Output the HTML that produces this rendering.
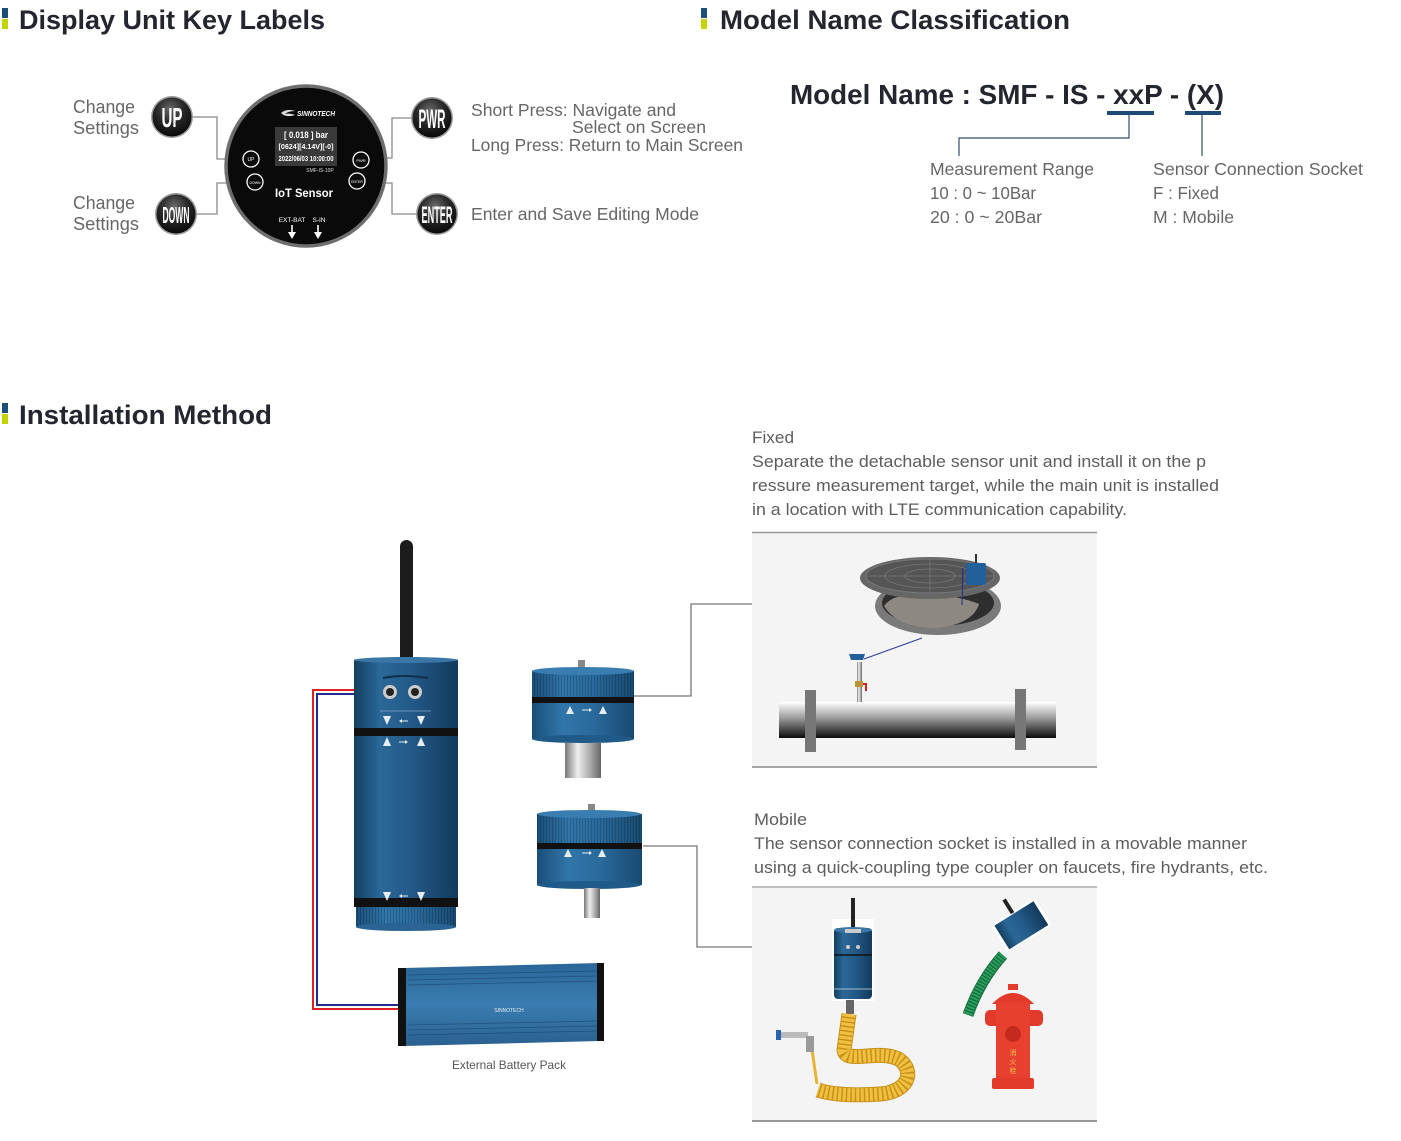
<!DOCTYPE html>
<html><head><meta charset="utf-8"><style>
html,body{margin:0;padding:0;background:#fff;}
svg{display:block;}
text{font-family:"Liberation Sans",Arial,sans-serif;}
</style></head><body>
<svg width="1401" height="1141" viewBox="0 0 1401 1141" xmlns="http://www.w3.org/2000/svg">
<defs>
<radialGradient id="btn" cx="45%" cy="30%" r="75%">
<stop offset="0" stop-color="#6a6a6a"/><stop offset="0.45" stop-color="#2a2a2a"/><stop offset="1" stop-color="#050505"/>
</radialGradient>
<linearGradient id="cyl" x1="0" x2="1" y1="0" y2="0">
<stop offset="0" stop-color="#14405f"/><stop offset="0.25" stop-color="#2a6898"/><stop offset="0.55" stop-color="#235a88"/><stop offset="1" stop-color="#123a5c"/>
</linearGradient>
<linearGradient id="cyl2" x1="0" x2="1" y1="0" y2="0">
<stop offset="0" stop-color="#1a4e78"/><stop offset="0.3" stop-color="#3176aa"/><stop offset="0.6" stop-color="#2a6a9c"/><stop offset="1" stop-color="#184a70"/>
</linearGradient>
<linearGradient id="steel" x1="0" x2="1">
<stop offset="0" stop-color="#777"/><stop offset="0.35" stop-color="#eee"/><stop offset="0.7" stop-color="#aaa"/><stop offset="1" stop-color="#666"/>
</linearGradient>
<linearGradient id="pipe" x1="0" x2="0" y1="0" y2="1">
<stop offset="0" stop-color="#ffffff"/><stop offset="0.45" stop-color="#9a9a9a"/><stop offset="1" stop-color="#0a0a0a"/>
</linearGradient>
<linearGradient id="batt" x1="0" x2="0" y1="0" y2="1">
<stop offset="0" stop-color="#2a6598"/><stop offset="0.5" stop-color="#3a7db0"/><stop offset="1" stop-color="#2a6090"/>
</linearGradient>
<pattern id="rib" width="3" height="10" patternUnits="userSpaceOnUse">
<rect width="3" height="10" fill="none"/><rect x="0" width="1" height="10" fill="#000" opacity="0.18"/>
</pattern>
</defs>

<!-- Headings -->
<rect x="2" y="8" width="6" height="10" fill="#1b4f7a"/><rect x="2" y="19" width="6" height="10" fill="#c3d300"/>
<text x="19" y="29" font-size="27" font-weight="bold" fill="#23262e" textLength="306" lengthAdjust="spacingAndGlyphs">Display Unit Key Labels</text>
<rect x="701" y="8" width="6" height="10" fill="#1b4f7a"/><rect x="701" y="19" width="6" height="10" fill="#c3d300"/>
<text x="720" y="29" font-size="27" font-weight="bold" fill="#23262e" textLength="350" lengthAdjust="spacingAndGlyphs">Model Name Classification</text>
<rect x="2" y="403" width="6" height="10" fill="#1b4f7a"/><rect x="2" y="414" width="6" height="10" fill="#c3d300"/>
<text x="19" y="424" font-size="27" font-weight="bold" fill="#23262e" textLength="253" lengthAdjust="spacingAndGlyphs">Installation Method</text>

<!-- Display unit -->
<g stroke="#8a8a8a" stroke-width="1.3" fill="none">
<polyline points="192,117 217,117 217,159 235,159"/>
<polyline points="196,214 217,214 217,183 235,183"/>
<polyline points="412,118 392,118 392,158 378,158"/>
<polyline points="417,214 392,214 392,183 378,183"/>
</g>
<circle cx="306" cy="166" r="80" fill="#0a0a0a" stroke="#6e6e6e" stroke-width="3.5"/>
<path d="M281 113 q6 -5 14 -2 q-7 0 -10 3 q6 -1 10 1 q-9 3 -14 -2z" fill="#ddd"/>
<text x="297" y="116" font-size="7" font-style="italic" font-weight="bold" fill="#fff" textLength="38" lengthAdjust="spacingAndGlyphs">SINNOTECH</text>
<rect x="275" y="127" width="62" height="39" fill="#3a3a3a"/>
<text x="306" y="138" font-size="9" font-weight="bold" fill="#fff" text-anchor="middle" textLength="44" lengthAdjust="spacingAndGlyphs">[ 0.018 ] bar</text>
<text x="306" y="149" font-size="7" font-weight="bold" fill="#fff" text-anchor="middle" textLength="55" lengthAdjust="spacingAndGlyphs">[0624][4.14V][-0]</text>
<text x="306" y="161" font-size="7" font-weight="bold" fill="#fff" text-anchor="middle" textLength="55" lengthAdjust="spacingAndGlyphs">2022/06/03 10:00:00</text>
<text x="320" y="172" font-size="5" fill="#ddd" text-anchor="middle">SMF-IS-10P</text>
<text x="304" y="197" font-size="12" font-weight="bold" fill="#fff" text-anchor="middle" textLength="58" lengthAdjust="spacingAndGlyphs">IoT Sensor</text>
<text x="292" y="222" font-size="6.5" fill="#fff" text-anchor="middle">EXT-BAT</text>
<text x="319" y="222" font-size="6.5" fill="#fff" text-anchor="middle">S-IN</text>
<g stroke="#fff" stroke-width="1.6" fill="#fff">
<line x1="292" y1="225" x2="292" y2="234"/><polygon points="288,232 296,232 292,239" stroke="none"/>
<line x1="318" y1="225" x2="318" y2="234"/><polygon points="314,232 322,232 318,239" stroke="none"/>
</g>
<g fill="none" stroke="#fff" stroke-width="1.3">
<circle cx="251" cy="159" r="8"/><circle cx="255" cy="182" r="8"/>
<circle cx="361" cy="160" r="8"/><circle cx="357" cy="181" r="8"/>
</g>
<text x="251" y="161" font-size="5" fill="#fff" text-anchor="middle">UP</text>
<text x="255" y="184" font-size="3.5" fill="#fff" text-anchor="middle">DOWN</text>
<text x="361" y="162" font-size="4" fill="#fff" text-anchor="middle">PWR</text>
<text x="357" y="183" font-size="3.5" fill="#fff" text-anchor="middle">ENTER</text>

<!-- Buttons -->
<circle cx="172" cy="117" r="21" fill="#9a9a9a"/><circle cx="172" cy="117" r="19.5" fill="url(#btn)"/>
<text x="161.5" y="127" font-size="28" font-weight="bold" fill="#fff" textLength="21" lengthAdjust="spacingAndGlyphs">UP</text>
<circle cx="176" cy="214" r="21" fill="#9a9a9a"/><circle cx="176" cy="214" r="19.5" fill="url(#btn)"/>
<text x="162.5" y="223" font-size="23" font-weight="bold" fill="#fff" textLength="27" lengthAdjust="spacingAndGlyphs">DOWN</text>
<circle cx="432" cy="118" r="21" fill="#9a9a9a"/><circle cx="432" cy="118" r="19.5" fill="url(#btn)"/>
<text x="418.5" y="128" font-size="27" font-weight="bold" fill="#fff" textLength="27" lengthAdjust="spacingAndGlyphs">PWR</text>
<circle cx="437" cy="214" r="21" fill="#9a9a9a"/><circle cx="437" cy="214" r="19.5" fill="url(#btn)"/>
<text x="421.5" y="223" font-size="24" font-weight="bold" fill="#fff" textLength="31" lengthAdjust="spacingAndGlyphs">ENTER</text>

<!-- Key label texts -->
<g fill="#666" font-size="18">
<text x="73" y="113" textLength="62" lengthAdjust="spacingAndGlyphs">Change</text>
<text x="73" y="134" textLength="66" lengthAdjust="spacingAndGlyphs">Settings</text>
<text x="73" y="209" textLength="62" lengthAdjust="spacingAndGlyphs">Change</text>
<text x="73" y="230" textLength="66" lengthAdjust="spacingAndGlyphs">Settings</text>
</g>
<g fill="#666" font-size="17.5">
<text x="471" y="116" textLength="205" lengthAdjust="spacingAndGlyphs">Short Press: Navigate and</text>
<text x="572" y="133" textLength="134" lengthAdjust="spacingAndGlyphs">Select on Screen</text>
<text x="471" y="151" textLength="272" lengthAdjust="spacingAndGlyphs">Long Press: Return to Main Screen</text>
<text x="471" y="220" textLength="228" lengthAdjust="spacingAndGlyphs">Enter and Save Editing Mode</text>
</g>

<!-- Model name -->
<text x="790" y="104" font-size="28" font-weight="bold" fill="#23262e" textLength="434" lengthAdjust="spacingAndGlyphs">Model Name : SMF - IS - xxP - (X)</text>
<rect x="1107" y="111" width="47" height="4" fill="#1e4a78"/>
<rect x="1185" y="111" width="36" height="4" fill="#1e4a78"/>
<g stroke="#2d4f70" stroke-width="1.2" fill="none">
<polyline points="1129,115 1129,138 959,138 959,156"/>
<line x1="1202" y1="115" x2="1202" y2="156"/>
</g>
<g fill="#666" font-size="17.5">
<text x="930" y="175" textLength="164" lengthAdjust="spacingAndGlyphs">Measurement Range</text>
<text x="930" y="199" textLength="106" lengthAdjust="spacingAndGlyphs">10 : 0 ~ 10Bar</text>
<text x="930" y="223" textLength="112" lengthAdjust="spacingAndGlyphs">20 : 0 ~ 20Bar</text>
<text x="1153" y="175" textLength="210" lengthAdjust="spacingAndGlyphs">Sensor Connection Socket</text>
<text x="1153" y="199" textLength="66" lengthAdjust="spacingAndGlyphs">F : Fixed</text>
<text x="1153" y="223" textLength="81" lengthAdjust="spacingAndGlyphs">M : Mobile</text>
</g>

<!-- Installation texts -->
<g fill="#5d5d5d" font-size="17">
<text x="752" y="443" textLength="42" lengthAdjust="spacingAndGlyphs">Fixed</text>
<text x="752" y="467" textLength="454" lengthAdjust="spacingAndGlyphs">Separate the detachable sensor unit and install it on the p</text>
<text x="752" y="491" textLength="467" lengthAdjust="spacingAndGlyphs">ressure measurement target, while the main unit is installed</text>
<text x="752" y="515" textLength="375" lengthAdjust="spacingAndGlyphs">in a location with LTE communication capability.</text>
<text x="754" y="825" textLength="53" lengthAdjust="spacingAndGlyphs">Mobile</text>
<text x="754" y="849" textLength="493" lengthAdjust="spacingAndGlyphs">The sensor connection socket is installed in a movable manner</text>
<text x="754" y="873" textLength="514" lengthAdjust="spacingAndGlyphs">using a quick-coupling type coupler on faucets, fire hydrants, etc.</text>
</g>

<!-- Connectors -->
<g stroke="#777" stroke-width="1.3" fill="none">
<polyline points="634,696 691,696 691,604 752,604"/>
<polyline points="643,846 697,846 697,947 752,947"/>
</g>
<polyline points="386,690 313,690 313,1009 400,1009" stroke="#e02020" stroke-width="2" fill="none"/>
<polyline points="389,694 317,694 317,1005 400,1005" stroke="#1f2c8c" stroke-width="2" fill="none"/>

<!-- Main device -->
<rect x="400" y="540" width="13" height="124" rx="6.5" fill="#1c1c1c"/>
<rect x="354" y="660" width="104" height="68" fill="url(#cyl)"/>
<ellipse cx="406" cy="660" rx="52" ry="3" fill="#3a76a6"/>
<path d="M383 678 q20 -4 45 0" stroke="#0f2f4a" stroke-width="2" fill="none"/>
<circle cx="390" cy="692" r="7" fill="#ccc"/><circle cx="390" cy="692" r="4" fill="#222"/>
<circle cx="415" cy="692" r="7" fill="#ccc"/><circle cx="415" cy="692" r="4" fill="#222"/>
<line x1="380" y1="711" x2="431" y2="711" stroke="#7fa7c8" stroke-width="0.8"/>
<rect x="354" y="728" width="104" height="8" fill="#111"/>
<rect x="354" y="736" width="104" height="164" fill="url(#cyl)"/>
<rect x="354" y="898" width="104" height="9" fill="#111"/>
<rect x="356" y="907" width="100" height="20" fill="url(#cyl2)"/>
<rect x="356" y="907" width="100" height="20" fill="url(#rib)"/>
<ellipse cx="406" cy="927" rx="50" ry="4" fill="#2a6394"/>
<g fill="#e6edf3">
<polygon points="383,716 391,716 387,725"/><polygon points="417,716 425,716 421,725"/>
<polygon points="383,746 391,746 387,737"/><polygon points="417,746 425,746 421,737"/>
<polygon points="383,892 391,892 387,901"/><polygon points="417,892 425,892 421,901"/>
<polygon points="399,721 402,719 402,723"/><polygon points="408,742 405,740 405,744"/><polygon points="399,896 402,894 402,898"/>
</g>
<g stroke="#e6edf3" stroke-width="1"><line x1="400" y1="721" x2="408" y2="721"/><line x1="399" y1="742" x2="407" y2="742"/><line x1="400" y1="896" x2="408" y2="896"/></g>

<!-- Sensor 1 -->
<rect x="578" y="660" width="7" height="10" fill="#888"/>
<rect x="532" y="671" width="102" height="27" fill="url(#cyl2)"/>
<rect x="532" y="671" width="102" height="27" fill="url(#rib)"/>
<ellipse cx="583" cy="671" rx="51" ry="4" fill="#3a7db0"/>
<rect x="532" y="697" width="102" height="6" fill="#111"/>
<rect x="532" y="703" width="102" height="36" fill="url(#cyl2)"/>
<ellipse cx="583" cy="739" rx="51" ry="4" fill="#1f5a88"/>
<g fill="#e6edf3"><polygon points="566,714 574,714 570,706"/><polygon points="599,714 607,714 603,706"/><polygon points="592,710 589,708 589,712"/></g>
<line x1="582" y1="710" x2="590" y2="710" stroke="#e6edf3"/>
<rect x="565" y="743" width="36" height="35" fill="url(#steel)"/>

<!-- Sensor 2 -->
<rect x="588" y="804" width="7" height="10" fill="#888"/>
<rect x="537" y="814" width="105" height="29" fill="url(#cyl2)"/>
<rect x="537" y="814" width="105" height="29" fill="url(#rib)"/>
<ellipse cx="589" cy="814" rx="52" ry="4" fill="#3a7db0"/>
<rect x="537" y="843" width="105" height="6" fill="#111"/>
<rect x="537" y="849" width="105" height="36" fill="url(#cyl2)"/>
<ellipse cx="589" cy="885" rx="52" ry="4" fill="#1f5a88"/>
<g fill="#e6edf3"><polygon points="564,857 572,857 568,849"/><polygon points="598,857 606,857 602,849"/><polygon points="592,853 589,851 589,855"/></g>
<line x1="582" y1="853" x2="590" y2="853" stroke="#e6edf3"/>
<rect x="584" y="888" width="16" height="30" fill="url(#steel)"/>

<!-- Battery -->
<polygon points="404,968 600,963 600,1041 404,1046" fill="url(#batt)"/>
<g stroke="#1d4a73" stroke-width="0.7" opacity="0.8">
<line x1="408" y1="975" x2="598" y2="971"/><line x1="408" y1="980" x2="598" y2="976"/><line x1="408" y1="985" x2="598" y2="981"/>
<line x1="408" y1="1025" x2="598" y2="1021"/><line x1="408" y1="1030" x2="598" y2="1026"/><line x1="408" y1="1035" x2="598" y2="1031"/>
</g>
<path d="M398 968 h8 v78 h-8 z" fill="#111"/>
<path d="M597 963 h7 v78 h-7 z" fill="#111"/>
<text x="509" y="1012" font-size="5" fill="#e8eef4" text-anchor="middle">SINNOTECH</text>
<text x="509" y="1069" font-size="12" fill="#555" text-anchor="middle" textLength="114" lengthAdjust="spacingAndGlyphs">External Battery Pack</text>

<!-- Fixed box -->
<rect x="752" y="533" width="345" height="234" fill="#f4f4f4"/>
<line x1="752" y1="532.5" x2="1097" y2="532.5" stroke="#999" stroke-width="1.5"/>
<line x1="752" y1="767" x2="1097" y2="767" stroke="#888" stroke-width="1.5"/>
<ellipse cx="938" cy="606" rx="63" ry="29" fill="#7a7a7a"/>
<ellipse cx="938" cy="603" rx="56" ry="23" fill="#2e2e2e"/>
<path d="M884 606 q10 -14 40 -10 q30 -2 55 8 q-6 20 -42 24 q-40 0 -53 -22z" fill="#8d8882"/>
<ellipse cx="930" cy="578" rx="70" ry="21" fill="#666"/>
<ellipse cx="930" cy="576" rx="64" ry="17" fill="#555" stroke="#777" stroke-width="1"/>
<g stroke="#777" stroke-width="0.8" fill="none"><ellipse cx="930" cy="576" rx="45" ry="12"/><ellipse cx="930" cy="576" rx="25" ry="7"/><line x1="930" y1="559" x2="930" y2="593"/><line x1="866" y1="576" x2="994" y2="576"/></g>
<rect x="966" y="563" width="20" height="22" rx="2" fill="#23609a"/>
<rect x="975" y="554" width="2" height="9" fill="#333"/>
<polyline points="963,568 962,605" stroke="#1f2c8c" stroke-width="1" fill="none"/>
<rect x="779" y="702" width="277" height="36" fill="url(#pipe)"/>
<rect x="805" y="690" width="11" height="62" fill="#777"/>
<rect x="1015" y="689" width="11" height="61" fill="#777"/>
<rect x="857" y="662" width="5" height="40" fill="url(#steel)"/>
<rect x="855" y="681" width="8" height="6" fill="#b8953a"/>
<path d="M863 684 h3 v7" stroke="#d02020" stroke-width="2" fill="none"/>
<path d="M849 654 h16 l-2 6 h-12 z" fill="#23609a"/>
<line x1="864" y1="659" x2="922" y2="638" stroke="#2b3a9a" stroke-width="1"/>

<!-- Mobile box -->
<rect x="752" y="888" width="345" height="233" fill="#f4f4f4"/>
<line x1="752" y1="887" x2="1097" y2="887" stroke="#aaa" stroke-width="1.5"/>
<line x1="752" y1="1121" x2="1097" y2="1121" stroke="#777" stroke-width="1.5"/>
<rect x="832" y="919" width="42" height="82" fill="#fff"/>
<rect x="851" y="898" width="4" height="30" fill="#222"/>
<rect x="834" y="928" width="38" height="71" rx="4" fill="url(#cyl)"/>
<ellipse cx="853" cy="930" rx="19" ry="3" fill="#3a76a6"/>
<rect x="845" y="929" width="16" height="4" fill="#ccc"/>
<circle cx="848" cy="947" r="2" fill="#ccc"/><circle cx="858" cy="947" r="2" fill="#ccc"/>
<line x1="834" y1="955" x2="872" y2="955" stroke="#111" stroke-width="1.5"/>
<line x1="834" y1="989" x2="872" y2="989" stroke="#cde" stroke-width="0.8"/>
<rect x="846" y="1000" width="8" height="14" fill="#666"/>
<path d="M849 1014 L844 1050 C 846 1065 880 1048 900 1060 C 915 1072 908 1092 880 1094 C 850 1096 830 1094 818 1090" stroke="#c8901a" stroke-width="15" fill="none"/>
<path d="M849 1014 L844 1050 C 846 1065 880 1048 900 1060 C 915 1072 908 1092 880 1094 C 850 1096 830 1094 818 1090" stroke="#f0c040" stroke-width="13" fill="none" stroke-dasharray="3 1.5"/>
<path d="M812 1050 L817 1084" stroke="#e7b535" stroke-width="3" fill="none"/>
<path d="M778 1032 h30 v6 h-30z" fill="#bbb"/>
<rect x="776" y="1030" width="5" height="10" fill="#2a64b0"/>
<rect x="806" y="1036" width="8" height="16" fill="#999"/>
<!-- hydrant -->
<g transform="rotate(-32 1020 925)">
<rect x="995" y="910" width="52" height="32" rx="4" fill="#fff"/>
<rect x="998" y="912" width="46" height="28" fill="url(#cyl)"/>
<rect x="1018" y="895" width="4" height="16" fill="#222"/>
</g>
<path d="M1003 955 C 985 975 975 995 968 1015" stroke="#146a38" stroke-width="11" fill="none"/>
<path d="M1003 955 C 985 975 975 995 968 1015" stroke="#2aa060" stroke-width="9" fill="none" stroke-dasharray="2 1.2"/>
<path d="M992 1004 q21 -22 42 0 z" fill="#e23b2b"/>
<rect x="1008" y="984" width="10" height="6" fill="#e23b2b"/>
<rect x="985" y="1010" width="58" height="16" rx="5" fill="#e23b2b"/>
<rect x="996" y="1002" width="34" height="78" fill="#e8402e"/>
<circle cx="1013" cy="1034" r="8" fill="#c42a1e"/>
<rect x="992" y="1078" width="42" height="11" rx="2" fill="#e23b2b"/>
<text x="1013" y="1055" font-size="7" fill="#f0c050" text-anchor="middle" font-family="Noto Sans CJK SC, sans-serif">消</text>
<text x="1013" y="1064" font-size="7" fill="#f0c050" text-anchor="middle" font-family="Noto Sans CJK SC, sans-serif">火</text>
<text x="1013" y="1073" font-size="7" fill="#f0c050" text-anchor="middle" font-family="Noto Sans CJK SC, sans-serif">栓</text>
</svg>
</body></html>
